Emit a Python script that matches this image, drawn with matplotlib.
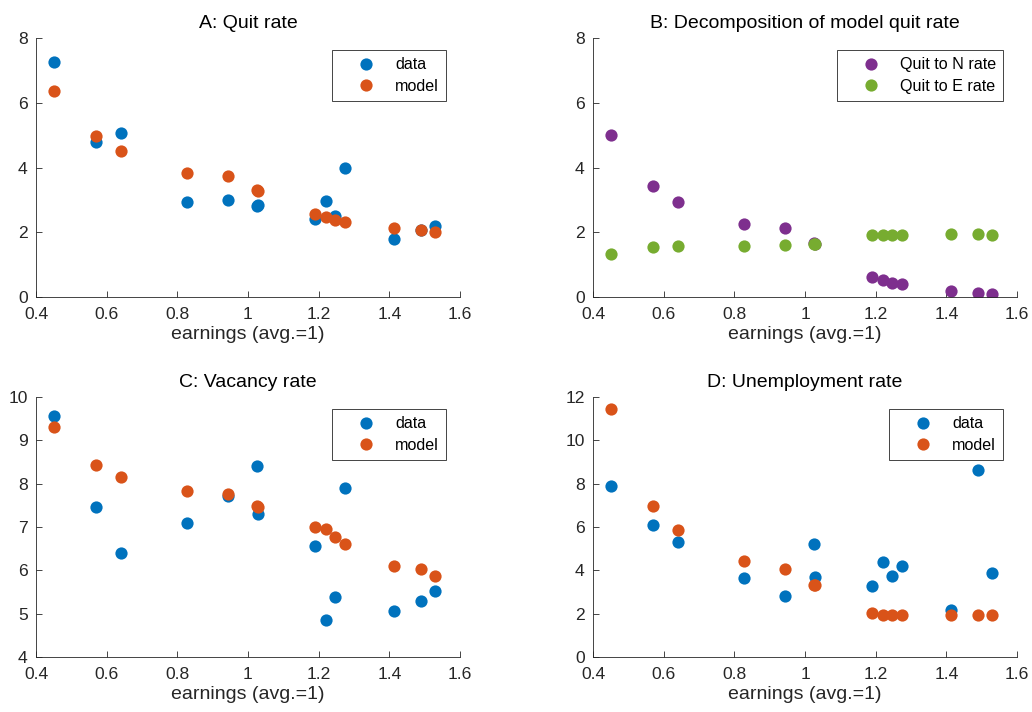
import matplotlib
matplotlib.use("Agg")
import matplotlib.pyplot as plt
from matplotlib.ticker import MultipleLocator

plt.rcParams["font.family"] = ["Liberation Sans", "DejaVu Sans"]

# earnings of each group (avg. = 1); two groups sit at nearly the same value
earnings = [0.451, 0.571, 0.641, 0.827, 0.943, 1.026, 1.028,
            1.190, 1.220, 1.245, 1.275, 1.412, 1.490, 1.529]

quit_data = [7.26, 4.79, 5.08, 2.92, 3.00, 2.82, 2.83,
             2.41, 2.97, 2.50, 4.00, 1.79, 2.08, 2.18]
quit_model = [6.36, 4.97, 4.50, 3.82, 3.74, 3.32, 3.27,
              2.55, 2.48, 2.37, 2.32, 2.14, 2.08, 2.02]

quit_to_n = [5.01, 3.42, 2.92, 2.25, 2.13, 1.66, 1.63,
             0.61, 0.52, 0.44, 0.39, 0.17, 0.13, 0.10]
quit_to_e = [1.34, 1.55, 1.56, 1.56, 1.60, 1.64, 1.65,
             1.90, 1.93, 1.92, 1.92, 1.96, 1.96, 1.93]

vac_data = [9.57, 7.46, 6.39, 7.09, 7.72, 8.40, 7.29,
            6.57, 4.86, 5.39, 7.89, 5.06, 5.30, 5.53]
vac_model = [9.30, 8.43, 8.15, 7.82, 7.75, 7.49, 7.45,
             7.00, 6.95, 6.77, 6.60, 6.10, 6.02, 5.88]

unemp_data = [7.89, 6.09, 5.29, 3.66, 2.80, 5.20, 3.71,
              3.26, 4.40, 3.72, 4.20, 2.15, 8.63, 3.86]
unemp_model = [11.46, 6.98, 5.88, 4.45, 4.08, 3.31, 3.31,
               2.02, 1.94, 1.94, 1.94, 1.94, 1.94, 1.94]

BLUE = "#0072BD"
ORANGE = "#D95319"
PURPLE = "#7E2F8E"
GREEN = "#77AC30"
AXC = "#262626"

fig = plt.figure(figsize=(10.32, 7.12), dpi=100)

W, H = 1032, 712


def make_axes(x0, y0, x1, y1):
    return fig.add_axes([x0 / W, 1 - y1 / H, (x1 - x0) / W, (y1 - y0) / H])


def style(ax, title, ylim, ystep):
    ax.set_xlim(0.4, 1.6)
    ax.set_ylim(*ylim)
    ax.xaxis.set_major_locator(MultipleLocator(0.2))
    ax.yaxis.set_major_locator(MultipleLocator(ystep))
    ax.xaxis.set_major_formatter(lambda v, p: f"{v:g}")
    ax.yaxis.set_major_formatter(lambda v, p: f"{v:g}")
    for s in ("top", "right"):
        ax.spines[s].set_visible(False)
    for s in ("left", "bottom"):
        ax.spines[s].set_color(AXC)
        ax.spines[s].set_linewidth(0.6)
    ax.tick_params(direction="in", length=4, width=0.6, colors=AXC,
                   labelsize=12.6, labelcolor=AXC)
    ax.tick_params(axis="x", pad=7)
    ax.tick_params(axis="y", pad=6)
    ax.set_title(title, fontsize=14, color="black", pad=7)
    ax.set_xlabel("earnings (avg.=1)", fontsize=14, color=AXC, labelpad=3)
    leg = ax.legend(loc="upper right", bbox_to_anchor=(0.967, 0.952),
                    fontsize=11.6, frameon=True, fancybox=False,
                    framealpha=1, edgecolor=AXC, handlelength=3.4,
                    handletextpad=0.1, labelspacing=0.4, borderpad=0.43,
                    borderaxespad=0)
    leg.get_frame().set_linewidth(0.6)


ms = 8.8

ax = make_axes(36, 38, 460, 297)
ax.plot(earnings, quit_data, "o", color=BLUE, ms=ms, mec="none", label="data")
ax.plot(earnings, quit_model, "o", color=ORANGE, ms=ms, mec="none", label="model")
style(ax, "A: Quit rate", (0, 8), 2)

ax = make_axes(593, 38, 1017, 297)
ax.plot(earnings, quit_to_n, "o", color=PURPLE, ms=ms, mec="none", label="Quit to N rate")
ax.plot(earnings, quit_to_e, "o", color=GREEN, ms=ms, mec="none", label="Quit to E rate")
style(ax, "B: Decomposition of model quit rate", (0, 8), 2)

ax = make_axes(36, 397, 460, 657)
ax.plot(earnings, vac_data, "o", color=BLUE, ms=ms, mec="none", label="data")
ax.plot(earnings, vac_model, "o", color=ORANGE, ms=ms, mec="none", label="model")
style(ax, "C: Vacancy rate", (4, 10), 1)

ax = make_axes(593, 397, 1017, 657)
ax.plot(earnings, unemp_data, "o", color=BLUE, ms=ms, mec="none", label="data")
ax.plot(earnings, unemp_model, "o", color=ORANGE, ms=ms, mec="none", label="model")
style(ax, "D: Unemployment rate", (0, 12), 2)

fig.savefig("out.png", dpi=100)
